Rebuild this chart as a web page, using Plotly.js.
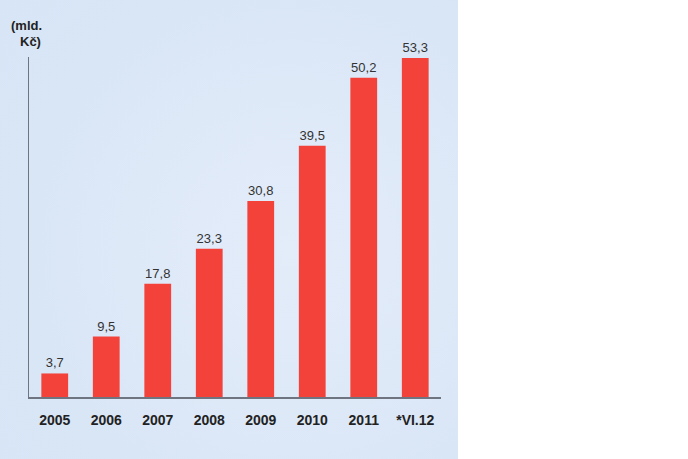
<!DOCTYPE html>
<html>
<head>
<meta charset="utf-8">
<script src="https://cdn.plot.ly/plotly-3.0.1.min.js"></script>
<style>
  html, body { margin: 0; padding: 0; background: #ffffff; }
  #bg { position: absolute; left: 0; top: 0; width: 458px; height: 459px;
        background: radial-gradient(circle at 290px 250px, #e3ecf9 0px, #dee9f8 160px, #d9e6f6 260px, #d8e5f6 400px); }
  #chart { position: absolute; left: 0; top: 0; width: 688px; height: 459px; }
</style>
</head>
<body>
<div id="bg"></div>
<div id="chart"></div>
<script>
const categories = ["2005", "2006", "2007", "2008", "2009", "2010", "2011", "*VI.12"];
const values = [3.7, 9.5, 17.8, 23.3, 30.8, 39.5, 50.2, 53.3];
const valueLabels = values.map(v => v.toFixed(1).replace('.', ','));
const yTitleLines = ["(mld.", "Kč)"];

const trace = {
  type: 'bar',
  x: categories,
  y: values,
  text: valueLabels,
  textposition: 'outside',
  cliponaxis: false,
  textfont: { family: 'Liberation Sans, Arial, sans-serif', size: 13, color: '#333333' },
  marker: { color: '#f2423a', line: { width: 0 } },
  hoverinfo: 'none'
};

const titleFont = { family: 'Liberation Sans, Arial, sans-serif', size: 13, color: '#222222', weight: 'bold' };

const layout = {
  width: 688,
  height: 459,
  margin: { l: 29, r: 247, t: 57, b: 62 },
  paper_bgcolor: 'rgba(0,0,0,0)',
  plot_bgcolor: 'rgba(0,0,0,0)',
  showlegend: false,
  bargap: 0.48,
  xaxis: {
    type: 'category',
    showline: true,
    linecolor: '#6f7580',
    linewidth: 1.5,
    ticks: '',
    showgrid: false,
    zeroline: false,
    tickfont: { family: 'Liberation Sans, Arial, sans-serif', size: 14, color: '#222222', weight: 'bold' },
    ticklabelstandoff: 10
  },
  yaxis: {
    range: [0, 53.45],
    showline: true,
    linecolor: '#6f7580',
    linewidth: 1.5,
    showticklabels: false,
    ticks: '',
    showgrid: false,
    zeroline: false
  },
  annotations: [
    { text: yTitleLines[0], xref: 'paper', yref: 'paper', x: -0.005, y: 1.094,
      xanchor: 'center', yanchor: 'middle', showarrow: false, font: titleFont },
    { text: yTitleLines[1], xref: 'paper', yref: 'paper', x: 0.003, y: 1.047,
      xanchor: 'center', yanchor: 'middle', showarrow: false, font: titleFont }
  ]
};

Plotly.newPlot('chart', [trace], layout, { displayModeBar: false, staticPlot: true });
</script>
</body>
</html>
